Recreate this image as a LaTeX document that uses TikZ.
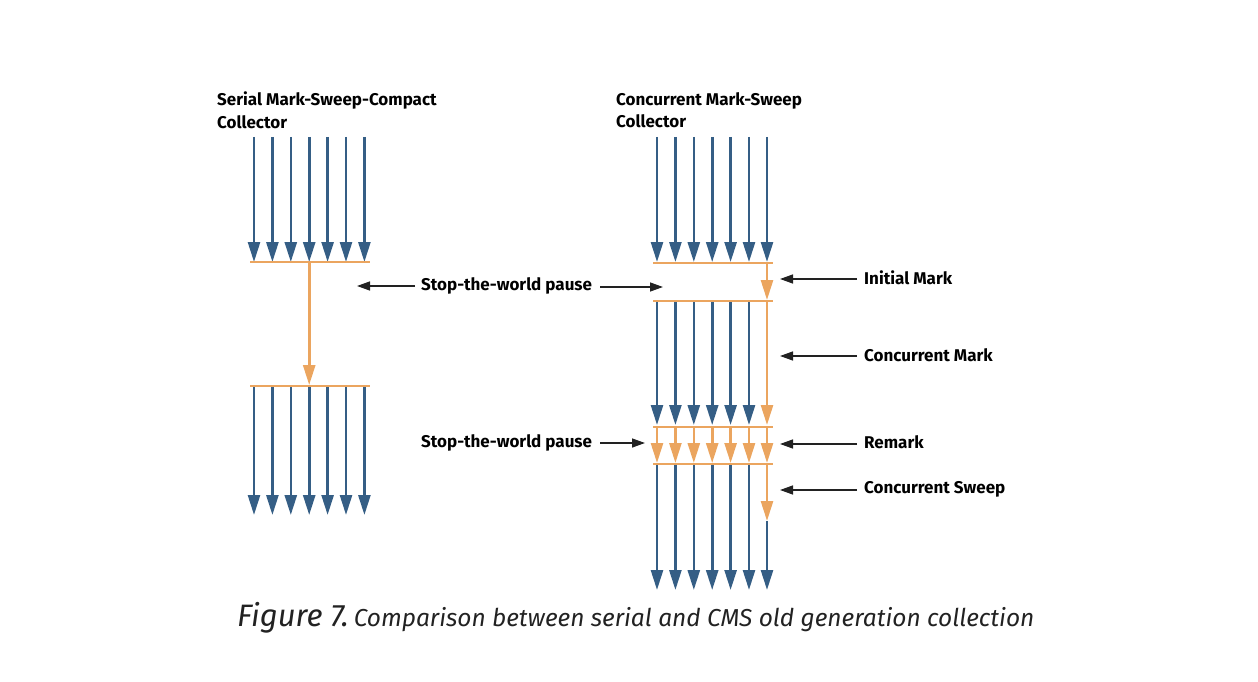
\documentclass[tikz,border=0pt]{standalone}
\usepackage{fontspec}
\setmainfont{Fira Sans}
\usetikzlibrary{arrows.meta}
\definecolor{gcblue}{HTML}{355E85}
\definecolor{gcorange}{HTML}{EBA55F}
\definecolor{gcink}{HTML}{222222}
\tikzset{
 thread/.style={gcblue,line width=2.6pt,-{Triangle[width=12pt,length=20pt]}},
 gcwork/.style={gcorange,line width=2.6pt,-{Triangle[width=12pt,length=20pt]}},
 pauseline/.style={gcorange,line width=1.8pt},
 pointer/.style={gcink,line width=1.4pt,-{Triangle[width=9pt,length=13pt]}},
 lbl/.style={font=\fontsize{17}{22.5}\selectfont\bfseries,text=black,inner sep=0pt,anchor=west,align=left}
}
\begin{document}
\begin{tikzpicture}[x=1pt,y=-1pt]
 \useasboundingbox (0,0) rectangle (1258,682);
 % serial collector
 \node[lbl,anchor=north west] (serial) at (217,92) {Serial Mark-Sweep-Compact\\Collector};
 \draw[thread](254,137)--(254,262);
 \draw[thread](272.4,137)--(272.4,262);
 \draw[thread](290.8,137)--(290.8,262);
 \draw[thread](309.2,137)--(309.2,262);
 \draw[thread](327.6,137)--(327.6,262);
 \draw[thread](346,137)--(346,262);
 \draw[thread](364.4,137)--(364.4,262);
 \draw[pauseline](250,262)--(370,262);
 \draw[gcwork](309.2,262)--(309.2,385);
 \draw[pauseline](250,386)--(370,386);
 \draw[thread](254,387)--(254,515);
 \draw[thread](272.4,387)--(272.4,515);
 \draw[thread](290.8,387)--(290.8,515);
 \draw[thread](309.2,387)--(309.2,515);
 \draw[thread](327.6,387)--(327.6,515);
 \draw[thread](346,387)--(346,515);
 \draw[thread](364.4,387)--(364.4,515);
 % concurrent collector
 \node[lbl,anchor=north west] (cms) at (616,92) {Concurrent Mark-Sweep\\Collector};
 \draw[thread](657,137)--(657,262);
 \draw[thread](675.4,137)--(675.4,262);
 \draw[thread](693.8,137)--(693.8,262);
 \draw[thread](712.2,137)--(712.2,262);
 \draw[thread](730.6,137)--(730.6,262);
 \draw[thread](749,137)--(749,262);
 \draw[thread](767,137)--(767,262);
 \draw[pauseline](653,263)--(773,263);
 \draw[gcwork](767,263)--(767,300);
 \draw[pauseline](653,301)--(773,301);
 \draw[thread](657,302)--(657,425);
 \draw[thread](675.4,302)--(675.4,425);
 \draw[thread](693.8,302)--(693.8,425);
 \draw[thread](712.2,302)--(712.2,425);
 \draw[thread](730.6,302)--(730.6,425);
 \draw[thread](749,302)--(749,425);
 \draw[gcwork](767,302)--(767,425);
 \draw[pauseline](653,427)--(773,427);
 \draw[gcwork](657,427)--(657,463);
 \draw[gcwork](675.4,427)--(675.4,463);
 \draw[gcwork](693.8,427)--(693.8,463);
 \draw[gcwork](712.2,427)--(712.2,463);
 \draw[gcwork](730.6,427)--(730.6,463);
 \draw[gcwork](749,427)--(749,463);
 \draw[gcwork](767,427)--(767,463);
 \draw[pauseline](653,464)--(773,464);
 \draw[thread](657,465)--(657,590);
 \draw[thread](675.4,465)--(675.4,590);
 \draw[thread](693.8,465)--(693.8,590);
 \draw[thread](712.2,465)--(712.2,590);
 \draw[thread](730.6,465)--(730.6,590);
 \draw[thread](749,465)--(749,590);
 \draw[gcwork](767,465)--(767,521);
 \draw[thread](767,521)--(767,590);
 % labels and pointers
 \node[lbl] (stwa) at (421,286) {Stop-the-world pause};
 \coordinate (stwa-l) at (357,286);
 \coordinate (stwa-r) at (663,287);
 \draw[pointer]([xshift=-6pt]stwa.west |- stwa-l)--(stwa-l);
 \draw[pointer]([xshift=8pt]stwa.east |- stwa-r)--(stwa-r);
 \node[lbl] (stwb) at (421,443) {Stop-the-world pause};
 \coordinate (stwb-r) at (645,443);
 \draw[pointer]([xshift=8pt]stwb.east |- stwb-r)--(stwb-r);
 \node[lbl] (initial) at (864,278) {Initial Mark};
 \coordinate (initial-p) at (780,279);
 \draw[pointer]([xshift=-7pt]initial.west |- initial-p)--(initial-p);
 \node[lbl] (cmark) at (864,355) {Concurrent Mark};
 \coordinate (cmark-p) at (780,356);
 \draw[pointer]([xshift=-7pt]cmark.west |- cmark-p)--(cmark-p);
 \node[lbl] (remark) at (864,442) {Remark};
 \coordinate (remark-p) at (780,444);
 \draw[pointer]([xshift=-7pt]remark.west |- remark-p)--(remark-p);
 \node[lbl] (csweep) at (864,489) {Concurrent Sweep};
 \coordinate (csweep-p) at (780,490);
 \draw[pointer]([xshift=-7pt]csweep.west |- csweep-p)--(csweep-p);
 % caption
 \node[anchor=west,inner sep=0pt,text=gcink,font=\itshape] (caption) at (237,618)
  {{\fontsize{31}{32}\selectfont Figure 7.}\hspace{5pt}{\fontsize{24.5}{26}\selectfont Comparison between serial and CMS old generation collection}};
\end{tikzpicture}
\end{document}
